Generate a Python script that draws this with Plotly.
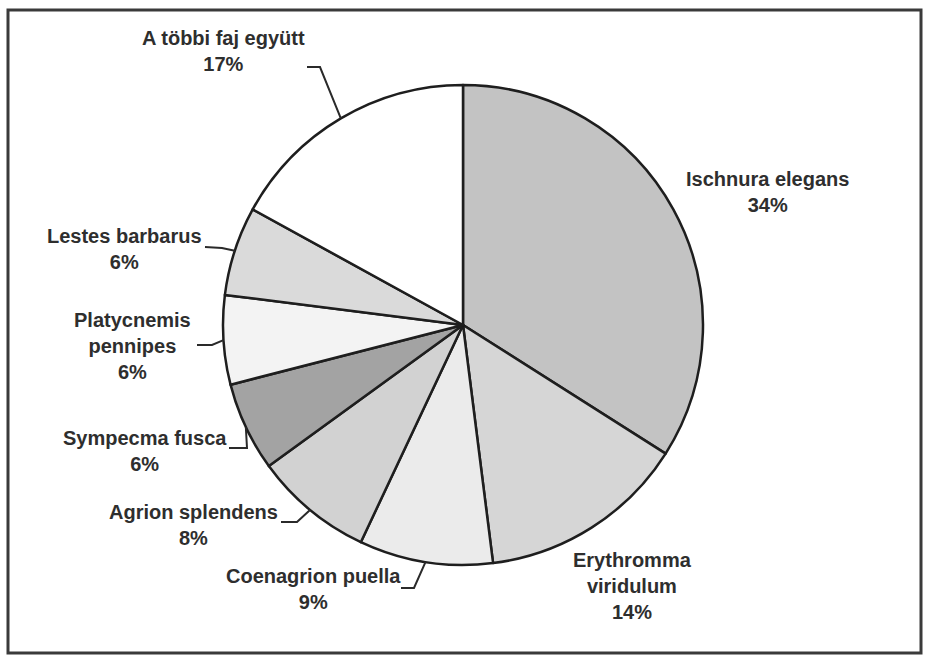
import math
import plotly.graph_objects as go

# ---- data ----
species = ["Ischnura elegans", "Erythromma viridulum", "Coenagrion puella",
           "Agrion splendens", "Sympecma fusca", "Platycnemis pennipes",
           "Lestes barbarus", "A többi faj együtt"]
display_names = ["Ischnura elegans", "Erythromma<br>viridulum", "Coenagrion puella",
                 "Agrion splendens", "Sympecma fusca", "Platycnemis<br>pennipes",
                 "Lestes barbarus", "A többi faj együtt"]
percent = [34, 14, 9, 8, 6, 6, 6, 17]

# ---- styling / layout constants ----
W, H = 935, 657
CX, CY, R = 463, 325, 240
colors = ["#c3c3c3", "#d6d6d6", "#ebebeb", "#d2d2d2", "#a3a3a3", "#f3f3f3", "#dadada", "#ffffff"]
# label centre (px) of first text line
label_pos = [(767, 178), (632, 559), (313, 575), (193, 511), (145, 437),
             (132, 320), (124, 236), (223, 38)]
# leader line: start point and elbow point (px); None = no leader
leaders = [None, None,
           ((401, 588), (414, 588)),
           ((281, 522), (297, 522)),
           ((229, 448), (247, 448)),
           ((197, 345), (212, 345)),
           ((205, 247), (222, 248)),
           ((307, 67), (320, 67))]
LINE_H = 12.5


def px(x):
    return x / W


def py(y):
    return 1 - y / H


fig = go.Figure(go.Pie(
    labels=species, values=percent, sort=False, direction="clockwise", rotation=0,
    marker=dict(colors=colors, line=dict(color="#1e1e1e", width=2.5)),
    textinfo="none", showlegend=False,
    domain=dict(x=[px(CX - R), px(CX + R)], y=[py(CY + R), py(CY - R)]),
))

total = sum(percent)
cum = 0
shapes = []
annotations = []
for i, v in enumerate(percent):
    mid = (cum + v / 2) / total * 2 * math.pi
    cum += v
    ex, ey = CX + R * math.sin(mid), CY - R * math.cos(mid)
    lx, ly = label_pos[i]
    annotations.append(dict(
        x=px(lx), y=py(ly - LINE_H), xref="paper", yref="paper",
        xanchor="center", yanchor="top",
        text=f"<b>{display_names[i]}<br>{v}%</b>", showarrow=False, align="center",
        font=dict(family="Liberation Sans, Arial, sans-serif", size=20, color="#2e2e2e"),
    ))
    if leaders[i] is not None:
        (sx, sy), (bx, by) = leaders[i]
        shapes.append(dict(
            type="path", xref="paper", yref="paper",
            path=f"M {px(sx)} {py(sy)} L {px(bx)} {py(by)} L {px(ex)} {py(ey)}",
            line=dict(color="#2a2a2a", width=2),
        ))

shapes.append(dict(type="rect", xref="paper", yref="paper",
                   x0=px(8), x1=px(921), y0=py(653), y1=py(10),
                   line=dict(color="#3a3a3a", width=3)))

fig.update_layout(
    width=W, height=H, margin=dict(l=0, r=0, t=0, b=0),
    paper_bgcolor="white", plot_bgcolor="white",
    shapes=shapes, annotations=annotations,
)
fig.write_html("out.html")
